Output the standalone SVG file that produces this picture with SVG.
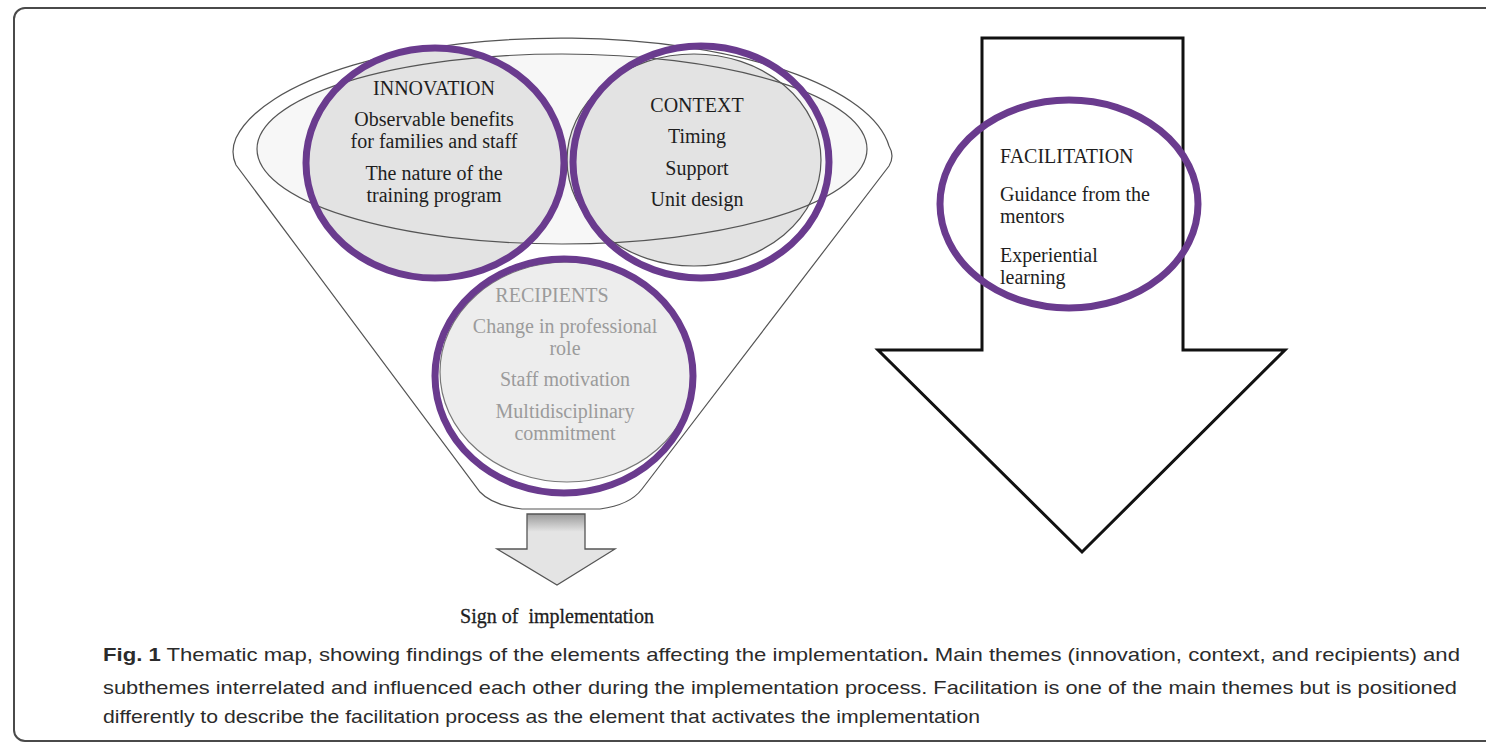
<svg xmlns="http://www.w3.org/2000/svg" width="1486" height="743" viewBox="0 0 1486 743">
  <style>
    .ring { fill: none; stroke: #6a3b8e; stroke-width: 7; }
    .thin { stroke: #555; stroke-width: 1.2; }
    .lbl { font-family: "Liberation Serif", "Times New Roman", serif; font-size: 20px; fill: #1e1e1e; }
    .mid { text-anchor: middle; }
    .faint { fill: #9b9b9b; }
    .cap { font-family: "Liberation Sans", Arial, sans-serif; font-size: 19px; fill: #2b2b2b; }
    .bold { font-weight: bold; }
  </style>
  <defs>
    <linearGradient id="neck" x1="0" y1="0" x2="0" y2="1">
      <stop offset="0" stop-color="#9a9a9a"/>
      <stop offset="0.25" stop-color="#e4e4e4"/>
      <stop offset="1" stop-color="#e4e4e4"/>
    </linearGradient>
  </defs>

  <rect width="1486" height="743" fill="#ffffff"/>

  <!-- figure frame -->
  <rect x="14" y="8" width="1490" height="733" rx="11" fill="none" stroke="#4a4a4a" stroke-width="2"/>

  <!-- funnel body -->
  <g id="funnel">
    <path d="M 236,165 Q 230,152 236,138 A 330,121 0 0 1 889,146 Q 895,156 889,166 L 642,489 Q 630,505 600,509 L 522,509 Q 492,505 480,492 Z" fill="#ffffff" class="thin"/>
    <ellipse cx="562" cy="149" rx="305" ry="95" fill="#f7f7f7"/>
  </g>

  <!-- main themes -->
  <g id="innovation">
    <ellipse cx="435" cy="163" rx="128" ry="114" fill="#e3e3e3"/>
  </g>
  <g id="context">
    <ellipse cx="694" cy="160" rx="127" ry="106" fill="#e3e3e3" class="thin"/>
  </g>
  <g id="funnel-rim">
    <ellipse cx="562" cy="149" rx="305" ry="95" fill="none" class="thin"/>
  </g>
  <g id="recipients">
    <ellipse cx="567" cy="372" rx="127" ry="110" fill="#ededed" stroke="#777" stroke-width="1.2"/>
    <ellipse class="ring" cx="564" cy="376" rx="129" ry="117"/>
    <text class="lbl mid faint" x="552" y="302">RECIPIENTS</text>
    <text class="lbl mid faint" x="565" y="333">Change in professional</text>
    <text class="lbl mid faint" x="565" y="355">role</text>
    <text class="lbl mid faint" x="565" y="386">Staff motivation</text>
    <text class="lbl mid faint" x="565" y="418">Multidisciplinary</text>
    <text class="lbl mid faint" x="565" y="440">commitment</text>
  </g>
  <g id="innovation-ring">
    <ellipse class="ring" cx="435" cy="163" rx="129" ry="115"/>
    <text class="lbl mid" x="434" y="95">INNOVATION</text>
    <text class="lbl mid" x="434" y="126">Observable benefits</text>
    <text class="lbl mid" x="434" y="148">for families and staff</text>
    <text class="lbl mid" x="434" y="180">The nature of the</text>
    <text class="lbl mid" x="434" y="202">training program</text>
  </g>
  <g id="context-ring">
    <ellipse class="ring" cx="701" cy="162" rx="128" ry="116"/>
    <text class="lbl mid" x="697" y="112">CONTEXT</text>
    <text class="lbl mid" x="697" y="143">Timing</text>
    <text class="lbl mid" x="697" y="175">Support</text>
    <text class="lbl mid" x="697" y="206">Unit design</text>
  </g>

  <!-- connectors: outcome arrow and facilitation arrow -->
  <g id="connectors">
    <path d="M 527,514 L 585,514 L 585,549 L 615,549 L 557,585 L 497,549 L 527,549 Z" fill="url(#neck)" stroke="#555" stroke-width="1.3"/>
    <path d="M 982,38 L 1183,38 L 1183,350 L 1285,350 L 1082,552 L 878,350 L 982,350 Z" fill="#ffffff" stroke="#111" stroke-width="3"/>
  </g>

  <g id="outcome">
    <text class="lbl mid" x="557" y="623" font-size="19" stroke="#1e1e1e" stroke-width="0.3" xml:space="preserve">Sign of  implementation</text>
  </g>

  <g id="facilitation">
    <ellipse class="ring" cx="1069" cy="204" rx="129" ry="104"/>
    <text class="lbl" x="1000" y="163">FACILITATION</text>
    <text class="lbl" x="1000" y="201">Guidance from the</text>
    <text class="lbl" x="1000" y="223">mentors</text>
    <text class="lbl" x="1000" y="262">Experiential</text>
    <text class="lbl" x="1000" y="284">learning</text>
  </g>

  <!-- caption -->
  <g id="caption">
    <text class="cap" x="103" y="661" textLength="1357" lengthAdjust="spacingAndGlyphs"><tspan class="bold">Fig. 1</tspan> Thematic map, showing findings of the elements affecting the implementation<tspan class="bold">.</tspan> Main themes (innovation, context, and recipients) and</text>
    <text class="cap" x="103" y="694" textLength="1354" lengthAdjust="spacingAndGlyphs">subthemes interrelated and influenced each other during the implementation process. Facilitation is one of the main themes but is positioned</text>
    <text class="cap" x="103" y="723" textLength="877" lengthAdjust="spacingAndGlyphs">differently to describe the facilitation process as the element that activates the implementation</text>
  </g>
</svg>
